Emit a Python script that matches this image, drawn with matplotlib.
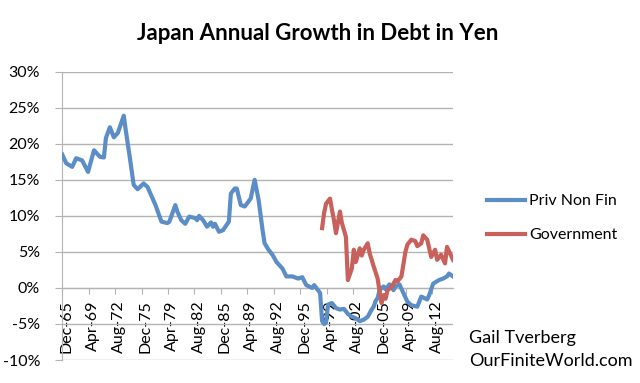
import matplotlib
matplotlib.use("Agg")
import matplotlib.pyplot as plt
from matplotlib.transforms import ScaledTranslation

plt.rcParams['font.family'] = ['Lato', 'DejaVu Sans']

# months since Dec-1965, annual growth in %
priv_months = [0, 6, 15, 21, 30, 39, 48, 57, 63, 66, 72, 78, 84, 93, 96, 102, 108, 114,
               123, 129, 141, 150, 159, 162, 171, 174, 180, 186, 192, 201, 204, 207, 213,
               219, 225, 228, 231, 237, 243, 252, 255, 261, 264, 270, 276, 285, 291, 297,
               303, 306, 312, 318, 324, 333, 339, 348, 357, 363, 369, 378, 381, 390, 393,
               396, 399, 402, 408, 414, 420, 426, 432, 438, 444, 450, 456, 462, 468, 471,
               474, 477, 480, 486, 489, 495, 501, 504, 510, 516, 522, 528, 537, 543, 552,
               555, 561, 570, 576, 582, 585, 591]
priv_values = [18.5, 17.3, 16.8, 18.0, 17.7, 16.1, 19.1, 18.2, 18.1, 20.8, 22.3, 20.9, 21.5,
               23.9, 21.9, 18.2, 14.3, 13.7, 14.5, 14.0, 11.5, 9.2, 9.0, 9.2, 11.5, 10.6,
               9.4, 8.9, 9.9, 9.7, 9.4, 10.0, 9.4, 8.5, 9.1, 8.5, 8.9, 7.8, 8.0, 9.2, 13.1,
               13.8, 13.8, 11.5, 11.3, 12.4, 15.0, 12.2, 8.0, 6.2, 5.3, 4.6, 3.6, 2.7, 1.6,
               1.6, 1.3, 1.5, 0.4, 0.0, 0.4, -0.7, -4.6, -5.0, -4.8, -2.3, -2.1, -2.8, -3.0,
               -2.9, -3.6, -4.0, -4.2, -4.6, -4.4, -4.0, -3.0, -2.6, -1.8, -1.4, -0.3, 0.2,
               -0.2, 0.5, -0.3, 0.2, 0.5, -0.7, -1.9, -2.4, -2.6, -1.2, -1.6, -1.0, 0.6, 1.1,
               1.3, 1.6, 2.0, 1.6]

gov_months = [393, 396, 399, 405, 408, 411, 414, 420, 423, 429, 432, 438, 441, 444, 450,
              453, 456, 462, 465, 471, 477, 480, 483, 486, 489, 492, 498, 504, 507, 513,
              519, 522, 528, 534, 537, 543, 546, 552, 558, 564, 567, 573, 579, 582, 591]
gov_values = [8.3, 10.4, 11.7, 12.4, 10.8, 9.4, 7.6, 10.6, 9.0, 7.1, 1.1, 2.7, 5.3, 3.6,
              5.5, 4.5, 5.3, 6.2, 4.8, 3.0, 1.3, -0.5, -2.1, -1.0, -1.5, -0.3, 0.1, 1.1,
              0.9, 1.6, 5.0, 6.0, 6.7, 6.5, 5.8, 6.2, 7.3, 6.7, 4.3, 5.3, 3.9, 4.6, 3.4,
              5.7, 3.9]

tick_months = [0, 40, 80, 120, 160, 200, 240, 280, 320, 360, 400, 440, 480, 520, 560]
tick_labels = ["Dec-65", "Apr-69", "Aug-72", "Dec-75", "Apr-79", "Aug-82", "Dec-85",
               "Apr-89", "Aug-92", "Dec-95", "Apr-99", "Aug-02", "Dec-05", "Apr-09", "Aug-12"]
y_ticks = [-10, -5, 0, 5, 10, 15, 20, 25, 30]

blue = '#5B8EC6'
red = '#C8605C'
grid_col = '#B3B3B3'

fig = plt.figure(figsize=(6.4, 3.83), dpi=100)
ax = fig.add_axes([0.0973, 0.060, 0.6105, 0.7527])

ax.plot(priv_months, priv_values, color=blue, lw=3.0, solid_joinstyle='round',
        label='Priv Non Fin', zorder=3)
ax.plot(gov_months, gov_values, color=red, lw=3.0, solid_joinstyle='round',
        label='Government', zorder=3)

ax.set_xlim(0, 591)
ax.set_ylim(-10, 30)
ax.set_yticks(y_ticks)
ax.set_yticklabels(["%d%%" % v for v in y_ticks], fontsize=11.5)
ax.grid(axis='y', color=grid_col, lw=1.0, zorder=0)
ax.set_axisbelow(True)

for s in ['top', 'right']:
    ax.spines[s].set_visible(False)
ax.spines['left'].set_color(grid_col)
ax.spines['bottom'].set_color(grid_col)
ax.spines['bottom'].set_position(('data', 0))
ax.tick_params(axis='y', length=5, color=grid_col, pad=11, labelcolor='black')

ax.set_xticks(tick_months)
ax.set_xticklabels(tick_labels, rotation=90, fontsize=11.5, va='top', ha='center')
ax.tick_params(axis='x', length=4, color=grid_col, pad=5)
for lab in ax.get_xticklabels():
    lab.set_transform(lab.get_transform() + ScaledTranslation(4 / 100, 0, fig.dpi_scale_trans))

fig.text(0.497, 0.912, "Japan Annual Growth in Debt in Yen", ha='center', va='center',
         fontsize=16, fontweight='bold')

fig.legend(loc='center left', bbox_to_anchor=(0.738, 0.43), frameon=False, fontsize=11.5,
           handlelength=2.4, handletextpad=0.25, labelspacing=1.25)

fig.text(0.733, 0.118, "Gail Tverberg", fontsize=13, ha='left', va='center')
fig.text(0.733, 0.058, "OurFiniteWorld.com", fontsize=13, ha='left', va='center')

fig.savefig("out.png", dpi=100)
